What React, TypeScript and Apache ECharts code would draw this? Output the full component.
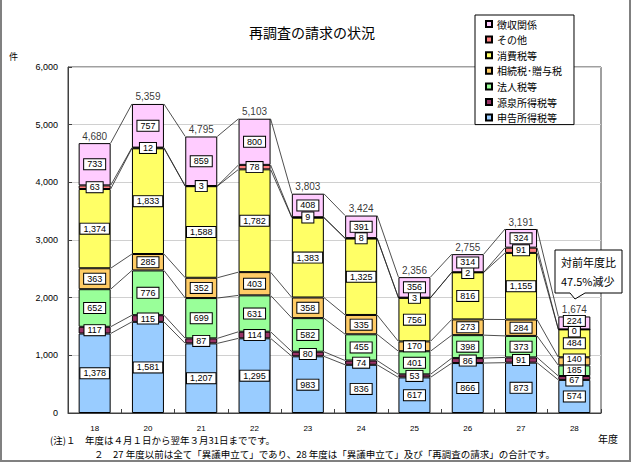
import React, { useEffect, useRef } from "react";
import * as echarts from "echarts";

// ---- data ----
const categories = ["18", "20", "21", "22", "23", "24", "25", "26", "27", "28"];
const seriesNames = ["申告所得税等", "源泉所得税等", "法人税等", "相続税･贈与税", "消費税等", "その他", "徴収関係"];
const shinkoku = [1378, 1581, 1207, 1295, 983, 836, 617, 866, 873, 574];
const gensen = [117, 115, 87, 114, 80, 74, 53, 86, 91, 67];
const hojin = [652, 776, 699, 631, 582, 455, 401, 398, 373, 185];
const sozoku = [363, 285, 352, 403, 358, 335, 170, 273, 284, 140];
const shohi = [1374, 1833, 1588, 1782, 1383, 1325, 756, 816, 1155, 484];
const sonota = [63, 12, 3, 78, 9, 8, 3, 2, 91, 0];
const choshu = [733, 757, 859, 800, 408, 391, 356, 314, 324, 224];
const legendOrder = ["徴収関係", "その他", "消費税等", "相続税･贈与税", "法人税等", "源泉所得税等", "申告所得税等"];
const titleText = "再調査の請求の状況";
const calloutLines = ["対前年度比", "47.5%減少"];
const notes1 = "(注)１　年度は４月１日から翌年３月31日までです。";
const notes2 = "２　27 年度以前は全て「異議申立て」であり、28 年度は「異議申立て」及び「再調査の請求」の合計です。";

// ---- styles ----
const COLORS = ["#99CCFF", "#993366", "#99FF99", "#FFCC66", "#FFFF66", "#FF8080", "#FFCCFF"];
const BAR_W = 32;
const W = 635;
const H = 463;
const GRID = { left: 68, right: 34, top: 67, bottom: 50 };
const Y_MAX = 6000;
const LABEL_H = 10.5;
const NUM_FONT = '"Liberation Sans", Arial, "Noto Sans CJK JP", sans-serif';
const JP_FONT = '"Noto Sans CJK JP", "Liberation Sans", sans-serif';

const fmt = (v: number) => v.toLocaleString("en-US");

export default function App() {
  const ref = useRef<HTMLDivElement>(null);
  useEffect(() => {
    if (!ref.current) return;
    const chart = echarts.init(ref.current, undefined, { renderer: "svg" });
    const valueSets = [shinkoku, gensen, hojin, sozoku, shohi, sonota, choshu];
    const cum = categories.map((_, i) => {
      let s = 0;
      return valueSets.map((arr) => (s += arr[i]));
    });
    const totals = cum.map((c) => c[c.length - 1]);
    const linkData = categories.slice(0, -1).map((_, i) => [i, ...cum[i], ...cum[i + 1]]);

    // spread overlapping segment labels vertically (like the spreadsheet does)
    const pxPerUnit = (H - GRID.top - GRID.bottom) / Y_MAX;
    const offsets: number[][] = valueSets.map(() => categories.map(() => 0));
    categories.forEach((_, i) => {
      const orig = valueSets.map((arr, k) => -(cum[i][k] - arr[i] / 2) * pxPerUnit);
      const pos = orig.slice();
      for (let iter = 0; iter < 60; iter++) {
        for (let k = 0; k < pos.length - 1; k++) {
          const gap = pos[k] - pos[k + 1];
          if (gap < LABEL_H) {
            const d = (LABEL_H - gap) / 2;
            pos[k] += d;
            pos[k + 1] -= d;
          }
        }
      }
      pos.forEach((p, k) => (offsets[k][i] = p - orig[k]));
    });

    const barSeries = valueSets.map((arr, k) => ({
      name: seriesNames[k],
      type: "bar",
      stack: "all",
      barWidth: BAR_W,
      z: 3,
      data: arr,
      itemStyle: { color: COLORS[k], borderColor: "#000", borderWidth: 1 },
      labelLayout: (p: any) => ({ dy: offsets[k][p.dataIndex] }),
      label: {
        show: true,
        position: "inside",
        formatter: (p: any) => fmt(p.value),
        fontSize: 9,
        lineHeight: 9,
        fontFamily: NUM_FONT,
        color: "#000",
        backgroundColor: "#fff",
        borderColor: "#000",
        borderWidth: 1,
        padding: [1, 3, 0, 3],
      },
    }));

    const option: any = {
      animation: false,
      textStyle: { fontFamily: NUM_FONT },
      grid: {
        ...GRID,
        show: true,
        borderColor: "#404040",
        borderWidth: 1,
        backgroundColor: "transparent",
      },
      legend: {
        data: legendOrder,
        orient: "vertical",
        left: 475,
        top: 15,
        itemWidth: 6,
        itemHeight: 6,
        itemGap: 5.6,
        icon: "rect",
        padding: [4, 12, 2, 10],
        backgroundColor: "#fff",
        borderColor: "#000",
        borderWidth: 1,
        textStyle: { fontSize: 10, lineHeight: 10, fontFamily: JP_FONT, color: "#000" },
        z: 10,
      },
      xAxis: {
        type: "category",
        data: categories,
        axisLine: { lineStyle: { color: "#404040" } },
        axisTick: { show: true, inside: true, length: 4, lineStyle: { color: "#404040" } },
        axisLabel: { fontSize: 8, color: "#000", margin: 11, fontFamily: NUM_FONT },
      },
      yAxis: {
        type: "value",
        min: 0,
        max: Y_MAX,
        interval: 1000,
        axisLine: { show: true, lineStyle: { color: "#404040" } },
        axisTick: { show: true, inside: true, length: 4, lineStyle: { color: "#404040" } },
        axisLabel: { fontSize: 9, color: "#000", margin: 10, formatter: (v: number) => fmt(v), fontFamily: NUM_FONT },
        splitLine: { show: true, lineStyle: { color: "#D0D0D0", width: 1 } },
      },
      series: [
        {
          type: "custom",
          z: 2,
          clip: false,
          silent: true,
          encode: { x: 0, y: 1 },
          data: linkData,
          renderItem: (params: any, api: any) => {
            const i = api.value(0);
            const half = BAR_W / 2;
            const children: any[] = [];
            for (let k = 0; k < 7; k++) {
              const a = api.coord([i, api.value(1 + k)]);
              const b = api.coord([i + 1, api.value(8 + k)]);
              children.push({
                type: "line",
                shape: { x1: a[0] + half, y1: a[1], x2: b[0] - half, y2: b[1] },
                style: { stroke: "#222", lineWidth: 0.8 },
              });
            }
            return { type: "group", children };
          },
        },
        ...barSeries,
        {
          type: "scatter",
          z: 4,
          symbolSize: 0,
          data: totals.map((t, i) => [i, t]),
          label: {
            show: true,
            position: "top",
            distance: 2,
            fontSize: 10,
            fontFamily: NUM_FONT,
            color: "#000",
            formatter: (p: any) => fmt(p.value[1]),
          },
        },
      ],
      graphic: [
        { type: "line", z: 1, shape: { x1: 1, y1: 0, x2: 1, y2: 462 }, style: { stroke: "#808080", lineWidth: 2 } },
        { type: "line", z: 1, shape: { x1: 0, y1: 461, x2: 631, y2: 461 }, style: { stroke: "#808080", lineWidth: 2 } },
        { type: "line", z: 1, shape: { x1: 630, y1: 0, x2: 630, y2: 462 }, style: { stroke: "#808080", lineWidth: 2 } },
        {
          type: "text",
          z: 20,
          x: 312,
          y: 32,
          style: { text: titleText, fontSize: 14, fontFamily: JP_FONT, fill: "#000", textAlign: "center", textVerticalAlign: "middle" },
        },
        {
          type: "text",
          z: 20,
          x: 9,
          y: 52,
          style: { text: "件", fontSize: 9, fontFamily: JP_FONT, fill: "#000" },
        },
        {
          type: "text",
          z: 20,
          x: 598,
          y: 433,
          style: { text: "年度", fontSize: 10, fontFamily: JP_FONT, fill: "#000" },
        },
        {
          type: "polygon",
          z: 30,
          shape: {
            points: [
              [555, 250], [622, 250], [622, 293], [585, 293], [575, 299], [570, 293], [555, 293],
            ],
          },
          style: { fill: "#fff", stroke: "#000", lineWidth: 1 },
        },
        {
          type: "text",
          z: 31,
          x: 561,
          y: 256,
          style: { text: calloutLines[0], fontSize: 11, fontFamily: JP_FONT, fill: "#000" },
        },
        {
          type: "text",
          z: 31,
          x: 561,
          y: 275,
          style: { text: calloutLines[1], fontSize: 11, fontFamily: JP_FONT, fill: "#000" },
        },
        {
          type: "text",
          z: 20,
          x: 50,
          y: 440,
          style: { text: notes1, fontSize: 9.5, lineHeight: 10, fontFamily: JP_FONT, fill: "#000", textVerticalAlign: "middle" },
        },
        {
          type: "text",
          z: 20,
          x: 94,
          y: 454,
          style: { text: notes2, fontSize: 9.5, lineHeight: 10, fontFamily: JP_FONT, fill: "#000", textVerticalAlign: "middle" },
        },
      ],
    };
    chart.setOption(option);
    return () => chart.dispose();
  }, []);
  return <div ref={ref} style={{ position: "absolute", left: 0, top: 0, width: W, height: H, background: "#fff" }} />;
}
